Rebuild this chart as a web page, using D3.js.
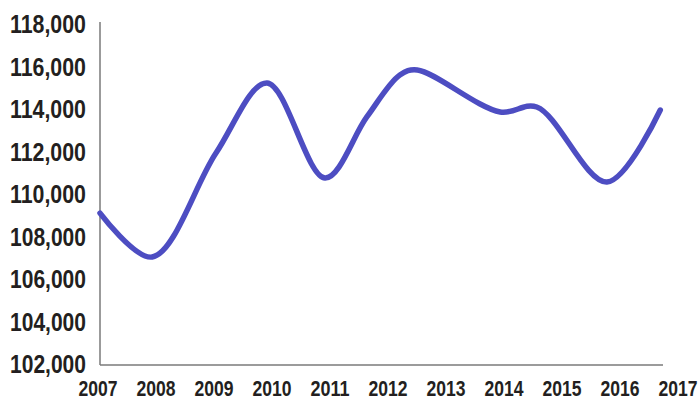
<!doctype html>
<html lang="en">
<head>
<meta charset="utf-8">
<title>line chart</title>
<script src="https://d3js.org/d3.v7.min.js"></script>
<style>
    body { margin: 0; background: #fff; }
    .lbl { font-family: "Liberation Sans", Arial, sans-serif; font-weight: bold; fill: #231f20; }
</style>
</head>
<body>
<svg width="700" height="400"></svg>
<script>
    // points (decimal years, so the bends land where the picture has them)
    var years = [2007, 2007.9, 2009, 2009.88, 2010.88, 2011.6, 2012.17, 2012.47, 2013.9, 2014.53, 2015.74, 2016.66];
    var values = [109100, 107035, 111930, 115224, 110753, 113624, 115600, 115835, 113860, 114094, 110565, 113953];
    var yTicks = [102000, 104000, 106000, 108000, 110000, 112000, 114000, 116000, 118000];
    var xTicks = [2007, 2008, 2009, 2010, 2011, 2012, 2013, 2014, 2015, 2016, 2017];

    var svg = d3.select("svg");

    var x = d3.scaleLinear().domain([2007, 2017]).range([100, 680]);
    var y = d3.scaleLinear().domain([102000, 118000]).range([364, 24]);

    var data = years.map(function (d, i) { return {year: d, value: values[i]}; });

    // axes lines
    svg.append("line")
        .attr("x1", 100).attr("x2", 100)
        .attr("y1", 22).attr("y2", 365)
        .attr("stroke", "#7a7a7a").attr("stroke-width", 1.5);
    svg.append("line")
        .attr("x1", 100).attr("x2", 663)
        .attr("y1", 365).attr("y2", 365)
        .attr("stroke", "#7a7a7a").attr("stroke-width", 1.5);

    var fmt = d3.format(",");

    // condensed look: squeeze the bold sans into the widths seen in the picture
    svg.append("g").selectAll("text")
        .data(yTicks)
        .enter().append("text")
        .attr("class", "lbl")
        .attr("x", 86)
        .attr("y", function (d) { return y(d); })
        .attr("dy", "0.36em")
        .attr("text-anchor", "end")
        .attr("textLength", 76)
        .attr("lengthAdjust", "spacingAndGlyphs")
        .style("font-size", "25px")
        .text(function (d) { return fmt(d); });

    svg.append("g").selectAll("text")
        .data(xTicks)
        .enter().append("text")
        .attr("class", "lbl")
        .attr("x", function (d) { return x(d) - 2; })
        .attr("y", 388)
        .attr("dy", "0.36em")
        .attr("text-anchor", "middle")
        .attr("textLength", 39)
        .attr("lengthAdjust", "spacingAndGlyphs")
        .style("font-size", "22px")
        .text(function (d) { return d; });

    var line = d3.line()
        .x(function (d) { return x(d.year); })
        .y(function (d) { return y(d.value); })
        .curve(d3.curveCatmullRom.alpha(0.5));

    svg.append("path")
        .datum(data)
        .attr("d", line)
        .attr("fill", "none")
        .attr("stroke", "#4d4dc2")
        .attr("stroke-width", 5.5)
        .attr("stroke-linecap", "round");
</script>
</body>
</html>
